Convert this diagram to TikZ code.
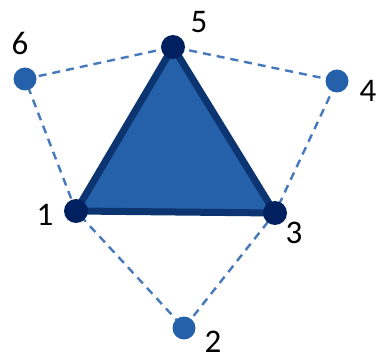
\documentclass[tikz,border=0pt]{standalone}
\usepackage{fontspec}
\setmainfont{Carlito}
\definecolor{fillblue}{HTML}{2461AA}
\definecolor{navy}{HTML}{002060}
\definecolor{edgeblue}{HTML}{0B3470}
\definecolor{dashblue}{HTML}{4678BC}
\begin{document}
\begin{tikzpicture}[x=1pt,y=-1pt,
  dot/.style={circle,fill=fillblue,minimum size=23pt,inner sep=0pt},
  darkdot/.style={circle,fill=navy,minimum size=24pt,inner sep=0pt},
  lbl/.style={font=\fontsize{33}{33}\selectfont,inner sep=0pt},
  dashedge/.style={draw=dashblue,line width=2.4pt,dash pattern=on 8pt off 6pt}]
\useasboundingbox (0,0) rectangle (378,361);
\coordinate (p5) at (173,47);
\coordinate (p6) at (25,79);
\coordinate (p4) at (337,81);
\coordinate (p1) at (76,211);
\coordinate (p3) at (275,213);
\coordinate (p2) at (184,328);
\draw[dashedge] (p6) -- (p5) -- (p4) -- (p3) -- (p2) -- (p1) -- cycle;
\draw[fill=fillblue,draw=edgeblue,line width=7pt,line join=miter] (p1) -- (p5) -- (p3) -- cycle;
\node[darkdot] (n5) at (p5) {};
\node[darkdot] (n1) at (p1) {};
\node[darkdot] (n3) at (p3) {};
\node[dot] (n6) at (p6) {};
\node[dot] (n4) at (p4) {};
\node[dot] (n2) at (p2) {};
\node[lbl] (l5) at (199,22) {5};
\node[lbl] (l6) at (20,43) {6};
\node[lbl] (l4) at (368,91) {4};
\node[lbl] (l1) at (45,215) {1};
\node[lbl] (l3) at (294,233) {3};
\node[lbl] (l2) at (213,342) {2};
\end{tikzpicture}
\end{document}
